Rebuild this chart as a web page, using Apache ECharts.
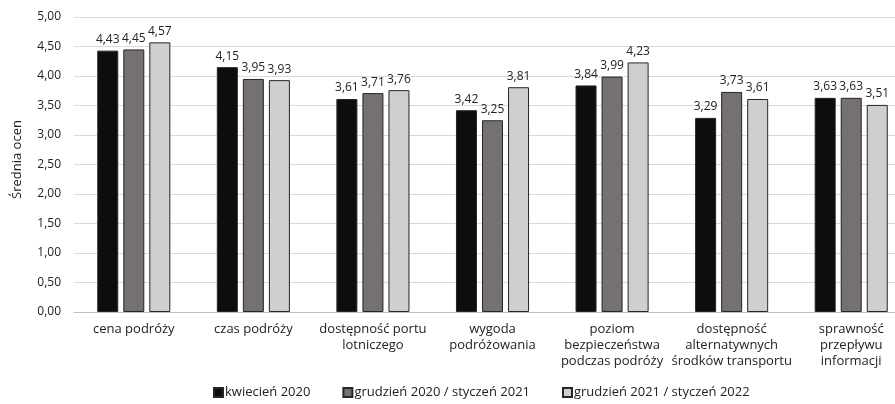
<!DOCTYPE html>
<html>
<head>
<meta charset="utf-8">
<script src="https://cdn.jsdelivr.net/npm/echarts@6/dist/echarts.min.js"></script>
<style>
html,body{margin:0;padding:0;background:#fff;}
#chart{width:895px;height:404px;}
</style>
</head>
<body>
<div id="chart"></div>
<script>
// Oceny czynników podróży w trzech okresach badania
const categories = [
  'cena podróży',
  'czas podróży',
  'dostępność portu\nlotniczego',
  'wygoda\npodróżowania',
  'poziom\nbezpieczeństwa\npodczas podróży',
  'dostępność\nalternatywnych\nśrodków transportu',
  'sprawność\nprzepływu\ninformacji'
];
const seriesNames = ['kwiecień 2020', 'grudzień 2020 / styczeń 2021', 'grudzień 2021 / styczeń 2022'];
const kwiecien2020 = [4.43, 4.15, 3.61, 3.42, 3.84, 3.29, 3.63];
const grudzien2020 = [4.45, 3.95, 3.71, 3.25, 3.99, 3.73, 3.63];
const grudzien2021 = [4.57, 3.93, 3.76, 3.81, 4.23, 3.61, 3.51];
const colors = ['#0d0d0d', '#767171', '#d0cece'];

const fmt = v => v.toFixed(2).replace('.', ',');
const font = '"Open Sans", "Noto Sans", sans-serif';

const chart = echarts.init(document.getElementById('chart'));
chart.setOption({
  animation: false,
  textStyle: { fontFamily: font },
  // plot area runs past the right edge of the canvas
  grid: { left: 74, width: 837, top: 17, bottom: 92, outerBoundsMode: 'none', containLabel: false },
  legend: {
    bottom: 0,
    left: 208,
    itemWidth: 9,
    itemHeight: 9,
    itemGap: 32,
    icon: 'rect',
    textStyle: { fontFamily: font, fontSize: 13, color: '#222', padding: [0, 0, 0, -3] },
    data: seriesNames
  },
  xAxis: {
    type: 'category',
    data: categories,
    axisTick: { show: false },
    axisLine: { lineStyle: { color: '#bfbfbf' } },
    axisLabel: { fontFamily: font, fontSize: 13, color: '#222', lineHeight: 16, margin: 9, interval: 0 }
  },
  yAxis: {
    type: 'value',
    min: 0,
    max: 5,
    interval: 0.5,
    name: 'Średnia ocen',
    nameLocation: 'middle',
    nameGap: 50,
    nameTextStyle: { fontFamily: font, fontSize: 13, color: '#222', padding: [0, 0, 0, 10] },
    axisLabel: { fontFamily: font, fontSize: 12, color: '#222', margin: 13, formatter: fmt },
    splitLine: { lineStyle: { color: '#d9d9d9' } }
  },
  series: [kwiecien2020, grudzien2020, grudzien2021].map((d, i) => ({
    name: seriesNames[i],
    type: 'bar',
    data: d,
    barWidth: 21,
    barGap: '24%',
    itemStyle: { color: colors[i], borderColor: '#262626', borderWidth: 1 },
    label: {
      show: true,
      position: 'top',
      distance: 5,
      fontFamily: font,
      fontSize: 12,
      color: '#222',
      formatter: p => fmt(p.value)
    }
  }))
});
</script>
</body>
</html>
